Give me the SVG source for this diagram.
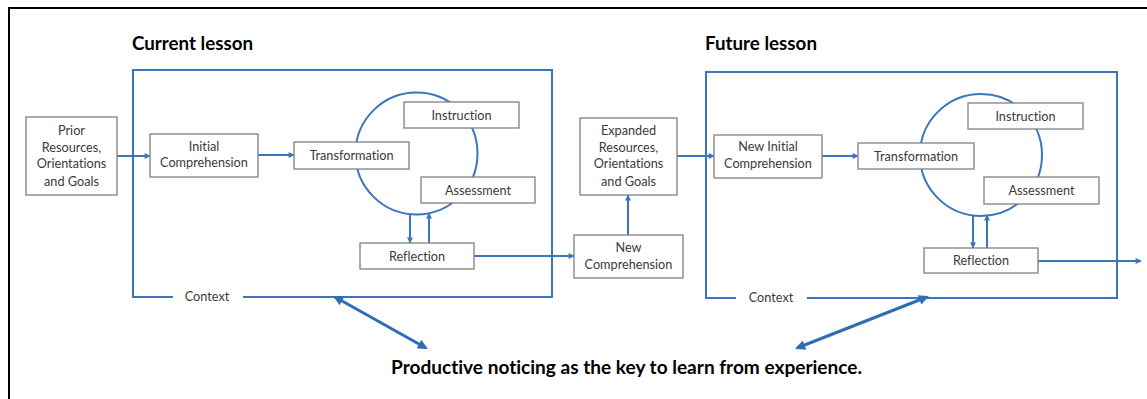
<svg xmlns="http://www.w3.org/2000/svg" width="1147" height="399" viewBox="0 0 1147 399">
<style>
.frame{fill:none;stroke:#000;stroke-width:2}
.lesson{fill:none;stroke:#3a75bd;stroke-width:2}
.cyc{fill:none;stroke:#3a75bd;stroke-width:2}
.box{fill:#fff;stroke:#808080;stroke-width:1.3}
.t{font-family:Lato,"Open Sans",sans-serif;font-size:12.7px;fill:#3a3a3a;text-anchor:middle;font-variant-ligatures:none}
.title{font-family:Lato,"Open Sans",sans-serif;font-size:18px;font-weight:bold;fill:#000;font-variant-ligatures:none}
.c{fill:none;stroke:#3a75bd;stroke-width:2}
.d{fill:none;stroke:#2e6db4;stroke-width:3}
</style>
<defs>
<marker id="ah" viewBox="0 0 10 10" refX="9" refY="5" markerWidth="7" markerHeight="6" markerUnits="userSpaceOnUse" orient="auto"><path d="M0,0 L10,5 L0,10 Z" fill="#3a75bd"/></marker>
<marker id="dh" viewBox="0 0 10 10" refX="8" refY="5" markerWidth="12" markerHeight="10" markerUnits="userSpaceOnUse" orient="auto-start-reverse"><path d="M0,0 L10,5 L0,10 Z" fill="#2e6db4"/></marker>
</defs>
<path class="frame" d="M9,399 V8 H1147"/>

<text class="title" x="132" y="50" textLength="121" lengthAdjust="spacingAndGlyphs">Current lesson</text>
<text class="title" x="705" y="50" textLength="112" lengthAdjust="spacingAndGlyphs">Future lesson</text>

<g id="current-lesson">
<path class="lesson" d="M173,297 H133 V70 H552 V297 H243"/>
<text class="t" x="207" y="301">Context</text>
</g>
<g id="future-lesson">
<path class="lesson" d="M736,298 H706 V72 H1117 V298 H807"/>
<text class="t" x="771" y="302">Context</text>
</g>

<g id="cycle-current"><circle class="cyc" cx="416.5" cy="153.5" r="61"/></g>
<g id="cycle-future"><circle class="cyc" cx="981" cy="155" r="61"/></g>

<g id="connectors">
<line class="c" x1="117" y1="156" x2="150" y2="156" marker-end="url(#ah)"/>
<line class="c" x1="258" y1="155" x2="294" y2="155" marker-end="url(#ah)"/>
<line class="c" x1="410" y1="214" x2="410" y2="243" marker-end="url(#ah)"/>
<line class="c" x1="429" y1="243" x2="429" y2="213" marker-end="url(#ah)"/>
<line class="c" x1="474" y1="256" x2="574" y2="256" marker-end="url(#ah)"/>
<line class="c" x1="628" y1="235" x2="628" y2="195" marker-end="url(#ah)"/>
<line class="c" x1="677" y1="156" x2="714" y2="156" marker-end="url(#ah)"/>
<line class="c" x1="822" y1="156" x2="858" y2="156" marker-end="url(#ah)"/>
<line class="c" x1="973" y1="215" x2="973" y2="248" marker-end="url(#ah)"/>
<line class="c" x1="987" y1="248" x2="987" y2="215" marker-end="url(#ah)"/>
<line class="c" x1="1038" y1="261" x2="1141" y2="261" marker-end="url(#ah)"/>
<line class="d" x1="335" y1="297" x2="426" y2="348" marker-start="url(#dh)" marker-end="url(#dh)"/>
<line class="d" x1="927" y1="297" x2="797" y2="348" marker-start="url(#dh)" marker-end="url(#dh)"/>
</g>

<g id="prior"><rect class="box" x="26" y="117" width="91" height="78"/>
<text class="t" x="71.5" y="135">Prior</text><text class="t" x="71.5" y="152">Resources,</text><text class="t" x="71.5" y="168">Orientations</text><text class="t" x="71.5" y="186">and Goals</text></g>
<g id="initial"><rect class="box" x="150" y="134" width="108" height="43"/>
<text class="t" x="204" y="151">Initial</text><text class="t" x="204" y="167">Comprehension</text></g>
<g id="transformation-1"><rect class="box" x="294" y="142" width="115" height="27"/><text class="t" x="351.5" y="159.5">Transformation</text></g>
<g id="instruction-1"><rect class="box" x="404" y="102" width="115" height="26"/><text class="t" x="461.5" y="119.5">Instruction</text></g>
<g id="assessment-1"><rect class="box" x="421" y="177" width="114" height="26"/><text class="t" x="478" y="194.5">Assessment</text></g>
<g id="reflection-1"><rect class="box" x="360" y="243" width="114" height="26"/><text class="t" x="417" y="260.5">Reflection</text></g>

<g id="new-comprehension"><rect class="box" x="574" y="235" width="109" height="43"/>
<text class="t" x="628.5" y="252">New</text><text class="t" x="628.5" y="269">Comprehension</text></g>
<g id="expanded"><rect class="box" x="580" y="118" width="97" height="77"/>
<text class="t" x="628.5" y="135">Expanded</text><text class="t" x="628.5" y="152">Resources,</text><text class="t" x="628.5" y="168">Orientations</text><text class="t" x="628.5" y="186">and Goals</text></g>
<g id="new-initial"><rect class="box" x="714" y="135" width="108" height="43"/>
<text class="t" x="768" y="151">New Initial</text><text class="t" x="768" y="168">Comprehension</text></g>
<g id="transformation-2"><rect class="box" x="858" y="143" width="116" height="26"/><text class="t" x="916" y="160.5">Transformation</text></g>
<g id="instruction-2"><rect class="box" x="968" y="103" width="115" height="26"/><text class="t" x="1025.5" y="120.5">Instruction</text></g>
<g id="assessment-2"><rect class="box" x="984" y="177" width="115" height="27"/><text class="t" x="1041.5" y="195">Assessment</text></g>
<g id="reflection-2"><rect class="box" x="924" y="248" width="114" height="25"/><text class="t" x="981" y="265">Reflection</text></g>

<text class="title" x="391" y="374" textLength="471" lengthAdjust="spacingAndGlyphs">Productive noticing as the key to learn from experience.</text>
</svg>
